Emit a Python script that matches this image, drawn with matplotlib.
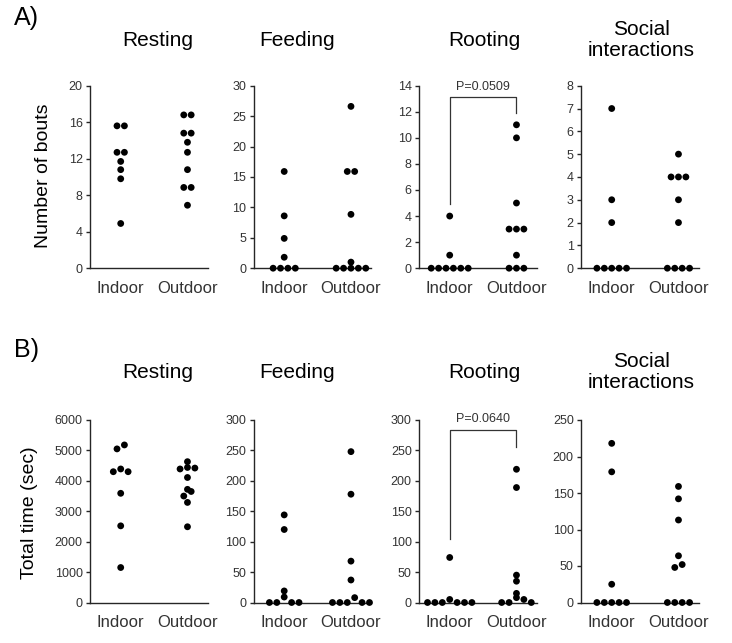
import numpy as np
import matplotlib
matplotlib.use('Agg')
import matplotlib.pyplot as plt

plt.rcParams['font.family'] = ['Liberation Sans', 'DejaVu Sans']

groups = ['Indoor', 'Outdoor']
behaviours = ['Resting', 'Feeding', 'Rooting', 'Social\ninteractions']

# A) Number of bouts
bouts_resting_indoor = [15.6, 15.6, 12.7, 12.7, 11.7, 10.8, 9.8, 4.9]
bouts_resting_outdoor = [16.8, 16.8, 14.8, 14.8, 13.8, 12.7, 10.8, 8.85, 8.85, 6.9]
bouts_feeding_indoor = [15.9, 8.6, 4.9, 1.8, 0, 0, 0, 0]
bouts_feeding_outdoor = [26.6, 15.9, 15.9, 8.85, 1.0, 0, 0, 0, 0, 0]
bouts_rooting_indoor = [4, 1, 0, 0, 0, 0, 0, 0]
bouts_rooting_outdoor = [11, 10, 5, 3, 3, 3, 1, 0, 0, 0]
bouts_social_indoor = [7, 3, 2, 0, 0, 0, 0, 0]
bouts_social_outdoor = [5, 4, 4, 4, 3, 2, 0, 0, 0, 0]

# B) Total time (sec)
time_resting_indoor = [5180, 5050, 4390, 4300, 4300, 3590, 2520, 1150]
time_resting_outdoor = [4630, 4440, 4420, 4390, 4110, 3720, 3650, 3500, 3290, 2490]
time_feeding_indoor = [144, 120, 19, 9, 0, 0, 0, 0]
time_feeding_outdoor = [248, 178, 68, 37, 8, 0, 0, 0, 0, 0]
time_rooting_indoor = [74, 5, 0, 0, 0, 0, 0, 0]
time_rooting_outdoor = [219, 189, 45, 35, 15, 8, 5, 0, 0, 0]
time_social_indoor = [218, 179, 25, 0, 0, 0, 0, 0]
time_social_outdoor = [159, 142, 113, 64, 52, 48, 0, 0, 0, 0]

# y-axis ticks
bouts_ticks = [np.arange(0, 21, 4), np.arange(0, 31, 5), np.arange(0, 15, 2), np.arange(0, 9, 1)]
time_ticks = [np.arange(0, 6001, 1000), np.arange(0, 301, 50), np.arange(0, 301, 50), np.arange(0, 251, 50)]

# significance brackets (Rooting): left leg end, top, right leg end, label
bouts_bracket = [4.9, 13.1, 11.9, 'P=0.0509']
time_bracket = [105, 283, 255, 'P=0.0640']

W, H = 732, 643
fig = plt.figure(figsize=(W / 100, H / 100), dpi=100)

lefts_px = [90, 253.5, 419, 581]
width_px = 117.5
height_px = 182.5
bottoms_px = [268.2, 602.5]
XLIM = (-0.46, 1.30)
DOT_PX = 7.4
AX_COLOR = '#262626'


def swarm_offsets(values, px_per_unit, xunits_per_px):
    vals = np.asarray(values, float)
    order = np.argsort(vals, kind='stable')
    offsets = np.zeros(len(vals))
    rows = []
    cur = [order[0]]
    start = vals[order[0]]
    for i in order[1:]:
        if (vals[i] - start) * px_per_unit < DOT_PX * 0.8:
            cur.append(i)
        else:
            rows.append(cur)
            cur = [i]
            start = vals[i]
    rows.append(cur)
    for row in rows:
        n = len(row)
        slots = np.arange(n) - (n - 1) / 2
        slot_order = sorted(slots, key=lambda v: (abs(v), -v))
        members = sorted(row, key=lambda i: -vals[i])
        for i, sl in zip(members, slot_order):
            offsets[i] = sl * DOT_PX * xunits_per_px
    return offsets


panel_data = [
    [(bouts_resting_indoor, bouts_resting_outdoor), (bouts_feeding_indoor, bouts_feeding_outdoor),
     (bouts_rooting_indoor, bouts_rooting_outdoor), (bouts_social_indoor, bouts_social_outdoor)],
    [(time_resting_indoor, time_resting_outdoor), (time_feeding_indoor, time_feeding_outdoor),
     (time_rooting_indoor, time_rooting_outdoor), (time_social_indoor, time_social_outdoor)],
]
tick_sets = [bouts_ticks, time_ticks]
brackets = [bouts_bracket, time_bracket]

for r in range(2):
    for c in range(4):
        ax = fig.add_axes([lefts_px[c] / W, 1 - bottoms_px[r] / H, width_px / W, height_px / H])
        ticks = tick_sets[r][c]
        ylim = (0, ticks[-1])
        ax.set_ylim(*ylim)
        ax.set_xlim(*XLIM)
        px_per_unit = height_px / (ylim[1] - ylim[0])
        xunits_per_px = (XLIM[1] - XLIM[0]) / width_px
        for g, vals in enumerate(panel_data[r][c]):
            offs = swarm_offsets(vals, px_per_unit, xunits_per_px)
            ax.scatter(g + offs, vals, s=24, color='black', edgecolors='none', zorder=3, clip_on=False)
        for s in ['top', 'right']:
            ax.spines[s].set_visible(False)
        for s in ['left', 'bottom']:
            ax.spines[s].set_linewidth(1.0)
            ax.spines[s].set_color(AX_COLOR)
        ax.set_yticks(ticks)
        ax.set_yticklabels([str(int(t)) for t in ticks])
        ax.tick_params(axis='y', length=3.2, width=1.0, color=AX_COLOR, labelsize=9,
                       labelcolor='#333333', pad=2)
        ax.set_xticks([0, 1])
        ax.set_xticklabels(groups)
        ax.tick_params(axis='x', length=0, labelsize=12, labelcolor='#333333', pad=9)
        if c == 2:
            lo, top, hi, lab = brackets[r]
            ax.plot([0, 0, 1, 1], [lo, top, top, hi], color='#333333', lw=0.9, clip_on=False)
            ax.annotate(lab, xy=(0.5, top), xytext=(0, 3.5), textcoords='offset points',
                        ha='center', va='bottom', fontsize=9, color='#333333')

# titles
title_x = [158, 297, 484, 641]
title_y = [40, 372]
for r in range(2):
    for c in range(4):
        fig.text(title_x[c] / W, 1 - title_y[r] / H, behaviours[c], ha='center', va='center',
                 fontsize=15, color='black', linespacing=1.1)

fig.text(14 / W, 1 - 18 / H, 'A)', ha='left', va='center', fontsize=18)
fig.text(14 / W, 1 - 350 / H, 'B)', ha='left', va='center', fontsize=18)

fig.text(44 / W, 1 - 176 / H, 'Number of bouts', rotation=90, ha='center', va='center', fontsize=14)
fig.text(30 / W, 1 - 513 / H, 'Total time (sec)', rotation=90, ha='center', va='center', fontsize=14)

fig.savefig('out.png', dpi=100, facecolor='white')
